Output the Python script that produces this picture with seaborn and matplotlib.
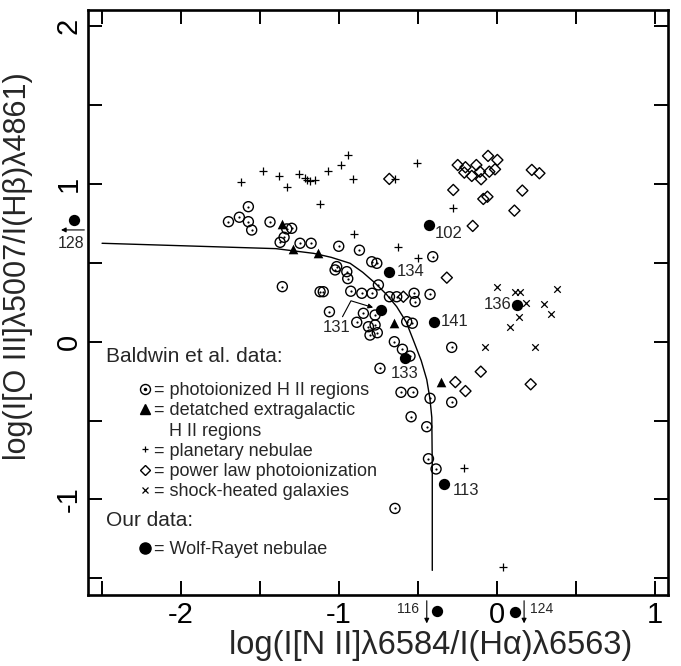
import numpy as np
import pandas as pd
import seaborn as sns
import matplotlib.pyplot as plt
from matplotlib.lines import Line2D
from matplotlib.legend_handler import HandlerTuple
from matplotlib.transforms import offset_copy

# photoionized H II regions (Baldwin et al.)
hii_x = [-1.574, -1.70, -1.631, -1.574, -1.553, -1.437, -1.331, -1.30, -1.348, -1.373,
         -1.247, -1.177, -1.002, -0.871, -0.793, -0.761, -1.015, -1.025, -0.951, -0.945,
         -1.359, -1.12, -1.10, -0.926, -0.856, -0.791, -0.751, -1.061, -0.846, -0.888,
         -0.772, -0.407, -0.681, -0.635, -0.525, -0.519, -0.424, -0.814, -0.772, -0.804,
         -0.758, -0.572, -0.536, -0.287, -0.65, -0.599, -0.551, -0.741, -0.608, -0.534,
         -0.424, -0.287, -0.544, -0.445, -0.434, -0.386, -0.646]
hii_y = [0.856, 0.761, 0.789, 0.761, 0.708, 0.759, 0.715, 0.719, 0.662, 0.63,
         0.624, 0.624, 0.605, 0.58, 0.507, 0.497, 0.476, 0.455, 0.444, 0.40,
         0.349, 0.317, 0.317, 0.32, 0.307, 0.307, 0.36, 0.19, 0.18, 0.123,
         0.169, 0.539, 0.285, 0.285, 0.307, 0.254, 0.30, 0.095, 0.106, 0.042,
         0.057, 0.127, 0.117, -0.036, 0.0, -0.048, -0.091, -0.169, -0.321, -0.321,
         -0.359, -0.384, -0.476, -0.539, -0.742, -0.807, -1.057]

# detached extragalactic H II regions
tri_x = [-1.363, -1.29, -1.131, -0.65, -0.354]
tri_y = [0.746, 0.588, 0.56, 0.117, -0.254]

# planetary nebulae
pn_x = [-1.62, -1.479, -1.378, -1.331, -1.253, -1.215, -1.20, -1.184, -1.152, -1.068,
        -0.989, -0.945, -0.909, -1.12, -0.903, -0.508, -0.646, -0.28, -0.625, -0.498,
        -0.209, 0.035]
pn_y = [1.015, 1.085, 1.053, 0.979, 1.062, 1.036, 1.025, 1.021, 1.025, 1.085,
        1.12, 1.184, 1.03, 0.871, 0.683, 1.135, 1.032, 0.846, 0.602, 0.533,
        -0.803, -1.43]

# power law photoionization
pl_x = [-0.249, -0.2, -0.131, -0.057, 0.002, -0.207, -0.16, -0.108, -0.101, -0.049,
        -0.013, 0.22, 0.268, -0.277, 0.16, -0.087, -0.061, 0.11, -0.154, -0.682,
        -0.318, -0.593, -0.103, -0.264, -0.2, 0.213]
pl_y = [1.12, 1.106, 1.12, 1.178, 1.152, 1.072, 1.051, 1.078, 1.03, 1.078,
        1.093, 1.089, 1.068, 0.962, 0.958, 0.905, 0.919, 0.831, 0.734, 1.032,
        0.406, 0.285, -0.19, -0.256, -0.313, -0.27]

# shock-heated galaxies
sh_x = [-0.002, 0.116, 0.146, 0.378, 0.182, 0.299, 0.342, 0.137, 0.082, -0.078, 0.241]
sh_y = [0.345, 0.317, 0.317, 0.332, 0.243, 0.239, 0.174, 0.159, 0.095, -0.036, -0.036]

# Wolf-Rayet nebulae (our data)
wr_id = ['128', '102', '134', '131', '141', '133', '136', '113', '116', '124']
wr_x = [-2.68, -0.428, -0.684, -0.734, -0.399, -0.582, 0.129, -0.335, -0.378, 0.114]
wr_y = [0.772, 0.74, 0.444, 0.201, 0.127, -0.105, 0.233, -0.904, -1.706, -1.712]

# dividing line between photoionized and shocked regions
curve_x = [-2.50, -1.40, -1.16, -1.05, -0.93, -0.85, -0.77, -0.70, -0.635, -0.575,
           -0.53, -0.48, -0.445, -0.425, -0.413, -0.41, -0.41]
curve_y = [0.624, 0.59, 0.56, 0.535, 0.497, 0.44, 0.37, 0.30, 0.222, 0.125,
           0.01, -0.12, -0.24, -0.36, -0.48, -0.79, -1.45]

x_ticks = [-2.5, -2, -1.5, -1, -0.5, 0, 0.5, 1]
x_tick_labels = ['', '-2', '', '-1', '', '0', '', '1']
y_ticks = [-1.5, -1, -0.5, 0, 0.5, 1, 1.5, 2]
y_tick_labels = ['', '-1', '', '0', '', '1', '', '2']

sns.set_theme(style='ticks')
plt.rcParams['font.family'] = ['Liberation Sans', 'DejaVu Sans']

fig = plt.figure(figsize=(6.81, 6.66), dpi=100)
ax = fig.add_axes([88 / 681, 1 - 595 / 666, 580 / 681, 585 / 666])

sns.lineplot(x=curve_x, y=curve_y, sort=False, estimator=None, color='black', lw=1.0, ax=ax)

sns.scatterplot(x=hii_x, y=hii_y, marker='o', s=52, color='none', edgecolor='black', linewidth=1.0, ax=ax)
sns.scatterplot(x=hii_x, y=hii_y, marker='o', s=2.5, color='black', linewidth=0, ax=ax)
sns.scatterplot(x=tri_x, y=tri_y, marker='^', s=48, color='black', linewidth=0, ax=ax)
sns.scatterplot(x=pn_x, y=pn_y, marker='+', s=28, color='black', linewidth=0.9, ax=ax)
sns.scatterplot(x=pl_x, y=pl_y, marker='D', s=32, color='none', edgecolor='black', linewidth=1.0, ax=ax)
sns.scatterplot(x=sh_x, y=sh_y, marker='x', s=22, color='black', linewidth=0.9, ax=ax)
sns.scatterplot(x=wr_x, y=wr_y, marker='o', s=66, color='black', linewidth=0, clip_on=False, ax=ax)

# labels next to the Wolf-Rayet nebulae (offsets in points)
label_offsets = {'102': (14.2, -6.0), '134': (15.8, 0), '141': (15.1, 0), '136': (-14.4, 0),
                 '133': (0, -10.8), '113': (15.8, -4.3)}
for name, x, y in zip(wr_id, wr_x, wr_y):
    if name in label_offsets:
        ax.annotate(name, xy=(x, y), xytext=label_offsets[name], textcoords='offset points',
                    ha='center', va='center', fontsize=12)

arrow_kw = dict(arrowstyle='-|>', color='black', lw=0.8, mutation_scale=7, shrinkA=0, shrinkB=0)


def offset_arrow(x, y, start, end):
    ax.annotate('', xy=(x, y), xytext=(x, y),
                xycoords=offset_copy(ax.transData, fig=fig, x=end[0], y=end[1], units='points'),
                textcoords=offset_copy(ax.transData, fig=fig, x=start[0], y=start[1], units='points'),
                arrowprops=arrow_kw, annotation_clip=False)


i = wr_id.index('131')
ax.annotate('131', xy=(wr_x[i], wr_y[i]), xytext=(-31.9, -12.6), textcoords='offset points',
            ha='center', va='center', fontsize=12,
            arrowprops=dict(arrowstyle='-|>', color='black', lw=0.8, mutation_scale=7,
                            connectionstyle='angle,angleA=62,angleB=-17,rad=0', shrinkA=0, shrinkB=6))

i = wr_id.index('128')
ax.annotate('128', xy=(wr_x[i], wr_y[i]), xytext=(-1.9, -16.8), textcoords='offset points',
            ha='center', va='center', fontsize=11.5, annotation_clip=False)
offset_arrow(wr_x[i], wr_y[i], (7.7, -7.2), (-9.1, -7.2))

i = wr_id.index('116')
ax.annotate('116', xy=(wr_x[i], wr_y[i]), xytext=(-21.3, 1.0), textcoords='offset points',
            ha='center', va='center', fontsize=10, annotation_clip=False)
offset_arrow(wr_x[i], wr_y[i], (-7.6, 7.2), (-7.6, -9.1))

i = wr_id.index('124')
ax.annotate('124', xy=(wr_x[i], wr_y[i]), xytext=(19.2, 1.7), textcoords='offset points',
            ha='center', va='center', fontsize=10, annotation_clip=False)
offset_arrow(wr_x[i], wr_y[i], (6.5, 7.9), (6.5, -8.4))

# axes styling
ax.set_xlim(-2.589, 1.082)
ax.set_ylim(-1.606, 2.103)
ax.set_xticks(x_ticks)
ax.set_xticklabels(x_tick_labels, fontsize=21)
ax.set_yticks(y_ticks)
ax.set_yticklabels(y_tick_labels, fontsize=21, rotation=90, va='center')
ax.tick_params(direction='in', length=10, width=1.4, top=True, right=True, pad=4, colors='black')
for sp in ax.spines.values():
    sp.set_linewidth(1.9)
    sp.set_color('black')

ax.set_xlabel('log(I[N II]\u03bb6584/I(H\u03b1)\u03bb6563)', fontsize=23.5)
ax.set_ylabel('log(I[O III]\u03bb5007/I(H\u03b2)\u03bb4861)', fontsize=22)
ax.xaxis.set_label_coords(0.590, -0.060)
ax.yaxis.set_label_coords(-0.095, 0.562)

# key
ax.text(0.031, 0.4074, 'Baldwin et al. data:', transform=ax.transAxes, fontsize=15, va='center', ha='left')
ax.text(0.031, 0.127, 'Our data:', transform=ax.transAxes, fontsize=15, va='center', ha='left')

h_hii = (Line2D([], [], marker='o', ls='none', mfc='none', mec='black', ms=7.2, mew=1.0),
         Line2D([], [], marker='o', ls='none', color='black', ms=1.5))
h_tri = Line2D([], [], marker='^', ls='none', color='black', ms=7)
h_blank = Line2D([], [], ls='none')
h_pn = Line2D([], [], marker='+', ls='none', color='black', ms=5, mew=0.9)
h_pl = Line2D([], [], marker='D', ls='none', mfc='none', mec='black', ms=5.5, mew=1.0)
h_sh = Line2D([], [], marker='x', ls='none', color='black', ms=4.5, mew=0.9)
h_wr = Line2D([], [], marker='o', ls='none', color='black', ms=8)

leg1 = ax.legend([h_hii, h_tri, h_blank, h_pn, h_pl, h_sh],
                 ['= photoionized H II regions', '= detatched extragalactic', '   H II regions',
                  '= planetary nebulae', '= power law photoionization', '= shock-heated galaxies'],
                 handler_map={tuple: HandlerTuple(ndivide=1)},
                 loc='upper left', bbox_to_anchor=(0.085, 0.364), frameon=False, fontsize=13,
                 handlelength=0.8, handletextpad=0.15, labelspacing=0.18, borderpad=0, borderaxespad=0)
ax.add_artist(leg1)

ax.legend([h_wr], ['= Wolf-Rayet nebulae'], loc='upper left', bbox_to_anchor=(0.085, 0.0923),
          frameon=False, fontsize=13, handlelength=0.8, handletextpad=0.15, borderpad=0, borderaxespad=0)

fig.savefig('out.png', dpi=100)
